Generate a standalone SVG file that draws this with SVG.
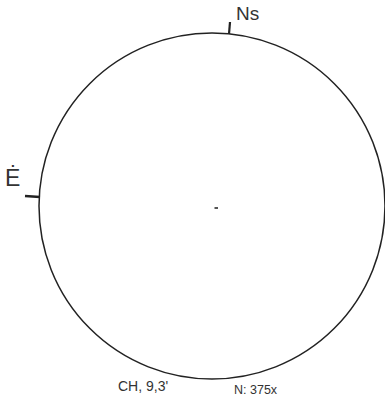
<svg xmlns="http://www.w3.org/2000/svg" width="385" height="401" viewBox="0 0 385 401">
<style>
.hand{font-family:"Liberation Sans",Arial,sans-serif;fill:#333}
.line{stroke:#222;fill:none}
</style>
<rect width="385" height="401" fill="#fff"/>
<g id="field">
<circle class="line" cx="212" cy="206" r="173" stroke-width="1.5"/>
<rect x="214.5" y="207" width="3.5" height="2" fill="#555"/>
</g>
<g id="connectors">
<line class="line" x1="230" y1="22" x2="229" y2="34" stroke-width="2.2"/>
<line class="line" x1="25" y1="196" x2="40" y2="197" stroke-width="2.6"/>
</g>
<g id="label-ns"><text class="hand" x="236" y="20" font-size="19">Ns</text></g>
<g id="label-e"><text class="hand" x="5" y="186" font-size="23">Ė</text></g>
<g id="label-ch"><text class="hand" x="118" y="391" font-size="14">CH, 9,3'</text></g>
<g id="label-n"><text class="hand" x="234" y="394" font-size="12.5">N: 375x</text></g>
</svg>
